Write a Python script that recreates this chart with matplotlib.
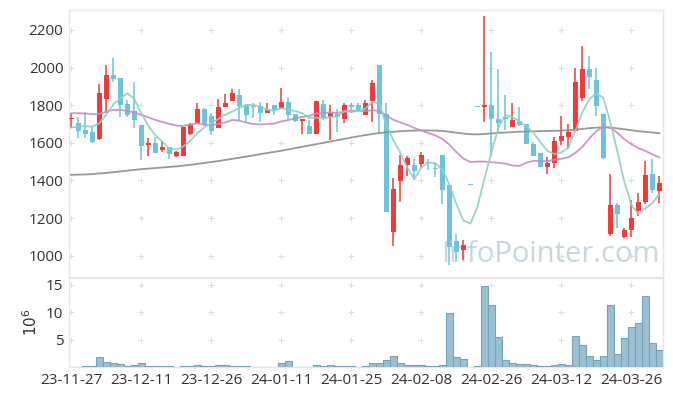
import numpy as np
import pandas as pd
import matplotlib
matplotlib.use('Agg')
import matplotlib.pyplot as plt

plt.rcParams['font.family'] = ['Open Sans', 'DejaVu Sans']

# trading days (KRX calendar)
holidays = ['2023-12-25', '2023-12-29', '2024-01-01', '2024-02-09',
            '2024-02-12', '2024-03-01']
dates = pd.bdate_range('2023-11-27', '2024-04-01', freq='C', holidays=holidays)
labels = [d.strftime('%y-%m-%d') for d in dates]

opens = [1726, 1704, 1669, 1658, 1623, 1835, 1961, 1945, 1807, 1770,
         1695, 1589, 1601, 1562, 1580, 1532, 1532, 1648, 1701, 1779,
         1743, 1681, 1793, 1825, 1853, 1800, 1796, 1796, 1757, 1800,
         1784, 1818, 1754, 1718, 1690, 1649, 1807, 1736, 1752, 1729,
         1800, 1800, 1750, 1825, 2015, 1754, 1127, 1396, 1481, 1484,
         1486, 1498, 1466, 1536, 1377, 1080, 1030, 1376, 1789, 1789,
         1802, 1725, 1736, 1683, 1718, 1701, 1594, 1545, 1469, 1491,
         1612, 1633, 1663, 1837, 1991, 1935, 1752, 1118, 1268, 1098,
         1137, 1240, 1288, 1435, 1346]
closes = [1734, 1665, 1648, 1605, 1864, 1961, 1940, 1802, 1750, 1722,
          1585, 1601, 1548, 1580, 1541, 1552, 1683, 1695, 1779, 1701,
          1665, 1789, 1811, 1864, 1796, 1750, 1788, 1761, 1781, 1775,
          1818, 1750, 1718, 1727, 1649, 1823, 1731, 1757, 1736, 1800,
          1793, 1768, 1811, 1917, 1754, 1231, 1355, 1481, 1520, 1448,
          1538, 1491, 1459, 1352, 1049, 1021, 1056, 1376, 1789, 1802,
          1725, 1704, 1725, 1722, 1697, 1593, 1532, 1474, 1491, 1612,
          1637, 1658, 1922, 1991, 1952, 1798, 1522, 1270, 1220, 1137,
          1199, 1284, 1429, 1350, 1385]
highs = [1757, 1736, 1763, 1687, 1912, 2013, 2050, 1945, 1828, 1922,
         1695, 1628, 1630, 1610, 1580, 1559, 1683, 1708, 1814, 1784,
         1757, 1835, 1858, 1885, 1885, 1800, 1811, 1819, 1814, 1800,
         1890, 1843, 1754, 1727, 1722, 1823, 1828, 1802, 1779, 1814,
         1814, 1814, 1828, 1935, 2015, 1814, 1412, 1534, 1529, 1516,
         1552, 1513, 1491, 1536, 1377, 1115, 1083, 1376, 1789, 2275,
         2085, 1991, 1855, 1814, 1789, 1701, 1607, 1545, 1527, 1633,
         1740, 1701, 2000, 2116, 2062, 1998, 1752, 1433, 1279, 1146,
         1296, 1332, 1504, 1513, 1424]
lows = [1681, 1624, 1624, 1598, 1615, 1757, 1921, 1736, 1736, 1678,
        1511, 1530, 1548, 1553, 1513, 1527, 1532, 1642, 1701, 1690,
        1644, 1681, 1793, 1825, 1722, 1713, 1731, 1713, 1757, 1749,
        1784, 1729, 1713, 1645, 1649, 1649, 1722, 1615, 1655, 1708,
        1775, 1768, 1750, 1713, 1651, 1231, 1053, 1288, 1426, 1400,
        1472, 1456, 1420, 1275, 950, 968, 977, 1376, 1789, 1709,
        1530, 1651, 1669, 1683, 1687, 1593, 1532, 1474, 1435, 1465,
        1589, 1571, 1663, 1820, 1885, 1743, 1513, 1105, 1146, 1092,
        1098, 1211, 1275, 1332, 1282]
volumes = [0.05, 0.05, 0.15, 0.15, 1.8, 0.9, 0.73, 0.55, 0.18, 0.36,
           0.73, 0.15, 0.15, 0.15, 0.15, 0.03, 0.15, 0.15, 0.36, 0.15,
           0.15, 0.36, 0.36, 0.15, 0.15, 0.15, 0.02, 0.02, 0.02, 0.02,
           0.73, 1.1, 0.02, 0.02, 0.02, 0.36, 0.15, 0.36, 0.15, 0.15,
           0.15, 0.02, 0.15, 0.73, 0.73, 1.33, 2.06, 0.73, 0.36, 0.36,
           0.36, 0.15, 0.15, 0.36, 9.8, 1.8, 1.45, 0.0, 0.1, 14.8,
           11.3, 5.45, 1.33, 0.73, 0.55, 0.55, 0.36, 0.15, 0.15, 0.36,
           0.55, 0.36, 5.6, 4.0, 2.0, 1.33, 2.0, 11.3, 2.36, 5.3,
           7.3, 8.0, 12.9, 4.36, 3.1]

# moving averages before enough history exists in the window
ma5_head = [1681, 1686, 1689, 1686]
ma20_head = [1757, 1758, 1756, 1752, 1753, 1765, 1775, 1775, 1770, 1761,
             1749, 1736, 1722, 1711, 1701, 1692, 1690, 1697, 1704]
# long moving average
ma60 = [1430, 1431, 1432, 1434, 1437, 1440, 1444, 1448, 1452, 1456,
        1460, 1463, 1466, 1469, 1472, 1475, 1479, 1483, 1488, 1493,
        1498, 1503, 1509, 1515, 1521, 1527, 1533, 1540, 1546, 1552,
        1558, 1565, 1572, 1579, 1586, 1593, 1600, 1607, 1614, 1621,
        1628, 1635, 1641, 1647, 1652, 1656, 1659, 1662, 1664, 1665,
        1666, 1666, 1665, 1663, 1659, 1654, 1649, 1646, 1645, 1647,
        1650, 1653, 1655, 1657, 1659, 1660, 1661, 1662, 1663, 1664,
        1665, 1667, 1670, 1674, 1678, 1681, 1682, 1681, 1677, 1672,
        1667, 1662, 1658, 1655, 1651]

o = np.array(opens, float)
c = np.array(closes, float)
h = np.array(highs, float)
l = np.array(lows, float)
x = np.arange(len(c))

cs = pd.Series(c)
ma5 = cs.rolling(5).mean().values
ma5[:4] = ma5_head
ma20 = cs.rolling(20).mean().values
ma20[:19] = ma20_head

RED = '#ee3b3b'
BLUE = '#6cc3db'
GRID = '#dedede'
EDGE = '#e6e6e6'
TXT = '#333333'

fig = plt.figure(figsize=(6.73, 3.96), dpi=100)
W, H = 673, 396
ax = fig.add_axes([69 / W, 1 - 277 / H, (663 - 69) / W, (277 - 10) / H])
axv = fig.add_axes([69 / W, 1 - 367 / H, (663 - 69) / W, (367 - 278) / H], sharex=ax)

up = c > o
cols = np.where(up, RED, BLUE)
body_lo = np.minimum(o, c)
body_h = np.maximum(np.abs(c - o), 7)
ax.vlines(x, l, h, colors=cols, lw=1.1, zorder=2)
ax.bar(x, body_h, bottom=body_lo, width=0.72, color=cols, lw=0, zorder=3)

ax.plot(x, ma60, color='#8e8e8e', lw=1.3, zorder=4, alpha=0.9)
ax.plot(x, ma20, color='#c98ac4', lw=1.3, zorder=4, alpha=0.9)
ax.plot(x, ma5, color='#8ecfc5', lw=1.3, zorder=4, alpha=0.9)

axv.bar(x, volumes, width=1.0, color='#9bc0d2', edgecolor='#74a3bb', lw=0.8, zorder=3)

xt = list(range(0, len(c), 10))
yt = [1000, 1200, 1400, 1600, 1800, 2000, 2200]
vt = [5, 10, 15]
gx, gy = np.meshgrid(xt, yt)
ax.plot(gx.ravel(), gy.ravel(), ls='none', marker='+', ms=5, mew=0.8, color=GRID, zorder=1)
gx, gy = np.meshgrid(xt, vt)
axv.plot(gx.ravel(), gy.ravel(), ls='none', marker='+', ms=5, mew=0.8, color=GRID, zorder=1)

ax.set_xlim(-0.3, 84.5)
ax.set_ylim(887, 2306)
axv.set_ylim(0, 16.2)

ax.set_yticks(yt)
axv.set_yticks(vt)
axv.set_xticks(xt)
axv.set_xticklabels([labels[i] for i in xt])
ax.tick_params(axis='x', labelbottom=False, length=0)
ax.tick_params(axis='y', length=0, labelsize=11, labelcolor=TXT, pad=4)
axv.tick_params(length=0, labelsize=11, labelcolor=TXT, pad=4)

for a in (ax, axv):
    for s in a.spines.values():
        s.set_color(EDGE)
        s.set_linewidth(1)

fig.text(32 / W, 1 - 322 / H, '$10^6$', rotation=90, ha='center', va='center',
         fontsize=11, color=TXT)

ax.text(0.995, 0.03, 'InfoPointer.com', transform=ax.transAxes, ha='right',
        va='bottom', fontsize=21, color='#c6d7e2', zorder=0)

fig.savefig('out.png', dpi=100)
